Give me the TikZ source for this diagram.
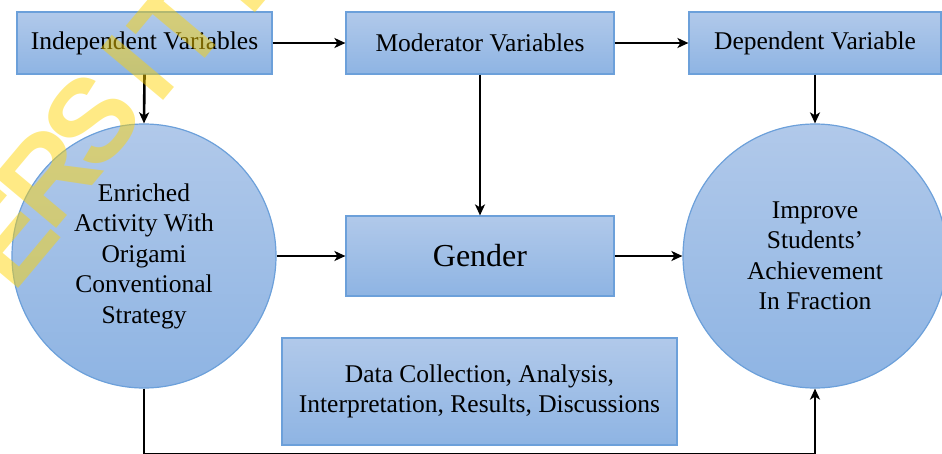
\documentclass[tikz,border=0pt]{standalone}
\usepackage{fontspec}
\setmainfont{Liberation Serif}
\newfontfamily\wmfont{Liberation Sans}
\usetikzlibrary{arrows.meta}
\definecolor{fillT}{RGB}{177,201,234}
\definecolor{fillB}{RGB}{142,180,227}
\definecolor{edge}{RGB}{108,160,218}
\definecolor{wmyellow}{RGB}{255,212,0}
\begin{document}
\begin{tikzpicture}[x=1pt,y=-1pt,
  box/.style={rectangle, draw=edge, line width=1.2pt, top color=fillT, bottom color=fillB,
    inner sep=0pt, align=center, font=\fontsize{25.5}{30.5}\selectfont},
  blob/.style={circle, draw=edge, line width=1.2pt, top color=fillT, bottom color=fillB,
    inner sep=0pt, minimum size=264pt, align=center, font=\fontsize{25.5}{30.5}\selectfont},
  arr/.style={line width=2.6pt, -{Stealth[length=11pt,width=10pt,inset=3pt]}},
  wm/.style={text=wmyellow, opacity=0.48, inner sep=0pt, rotate=50,
    font=\wmfont\bfseries\fontsize{118}{118}\selectfont}
]
\useasboundingbox (0,0) rectangle (942,453);

\node[box, minimum width=255pt, minimum height=62pt] (iv) at (144.5,43) {Independent Variables};
\node[box, minimum width=268pt, minimum height=62pt] (mv) at (480,43) {Moderator Variables};
\node[box, minimum width=252pt, minimum height=62pt] (dv) at (815,43) {Dependent Variable};
\node[box, minimum width=268pt, minimum height=80pt, font=\fontsize{32}{36}\selectfont] (gd) at (480,256) {Gender};
\node[box, minimum width=395pt, minimum height=107pt] (dc) at (479.5,391.5) {Data Collection, Analysis,\\Interpretation, Results, Discussions};
\node[blob] (lc) at (144,256) {Enriched\\Activity With\\Origami\\Conventional\\Strategy};
\node[blob] (rc) at (815,256) {Improve\\Students’\\Achievement\\In Fraction};

\coordinate (bot) at (0,454.2);

\draw[arr] (iv) -- (mv);
\draw[arr] (mv) -- (dv);
\draw[arr] (iv.south) -- (lc.north);
\draw[arr] (mv.south) -- (gd.north);
\draw[arr] (dv.south) -- (rc.north);
\draw[arr] (lc.east) -- (gd.west);
\draw[arr] (gd.east) -- (rc.west);
\draw[arr] (lc.south) -- (lc.south |- bot) -- (rc.south |- bot) -- (rc.south);

\node[wm] (wE) at (8,238) {E};
\node[wm] (wR) at (48,176) {R};
\node[wm] (wS) at (92,120) {S};
\node[wm] (wI) at (138,68) {I};
\node[wm] (wT) at (180,26) {T};
\node[wm] (wY) at (230,-20) {Y};
\end{tikzpicture}
\end{document}
